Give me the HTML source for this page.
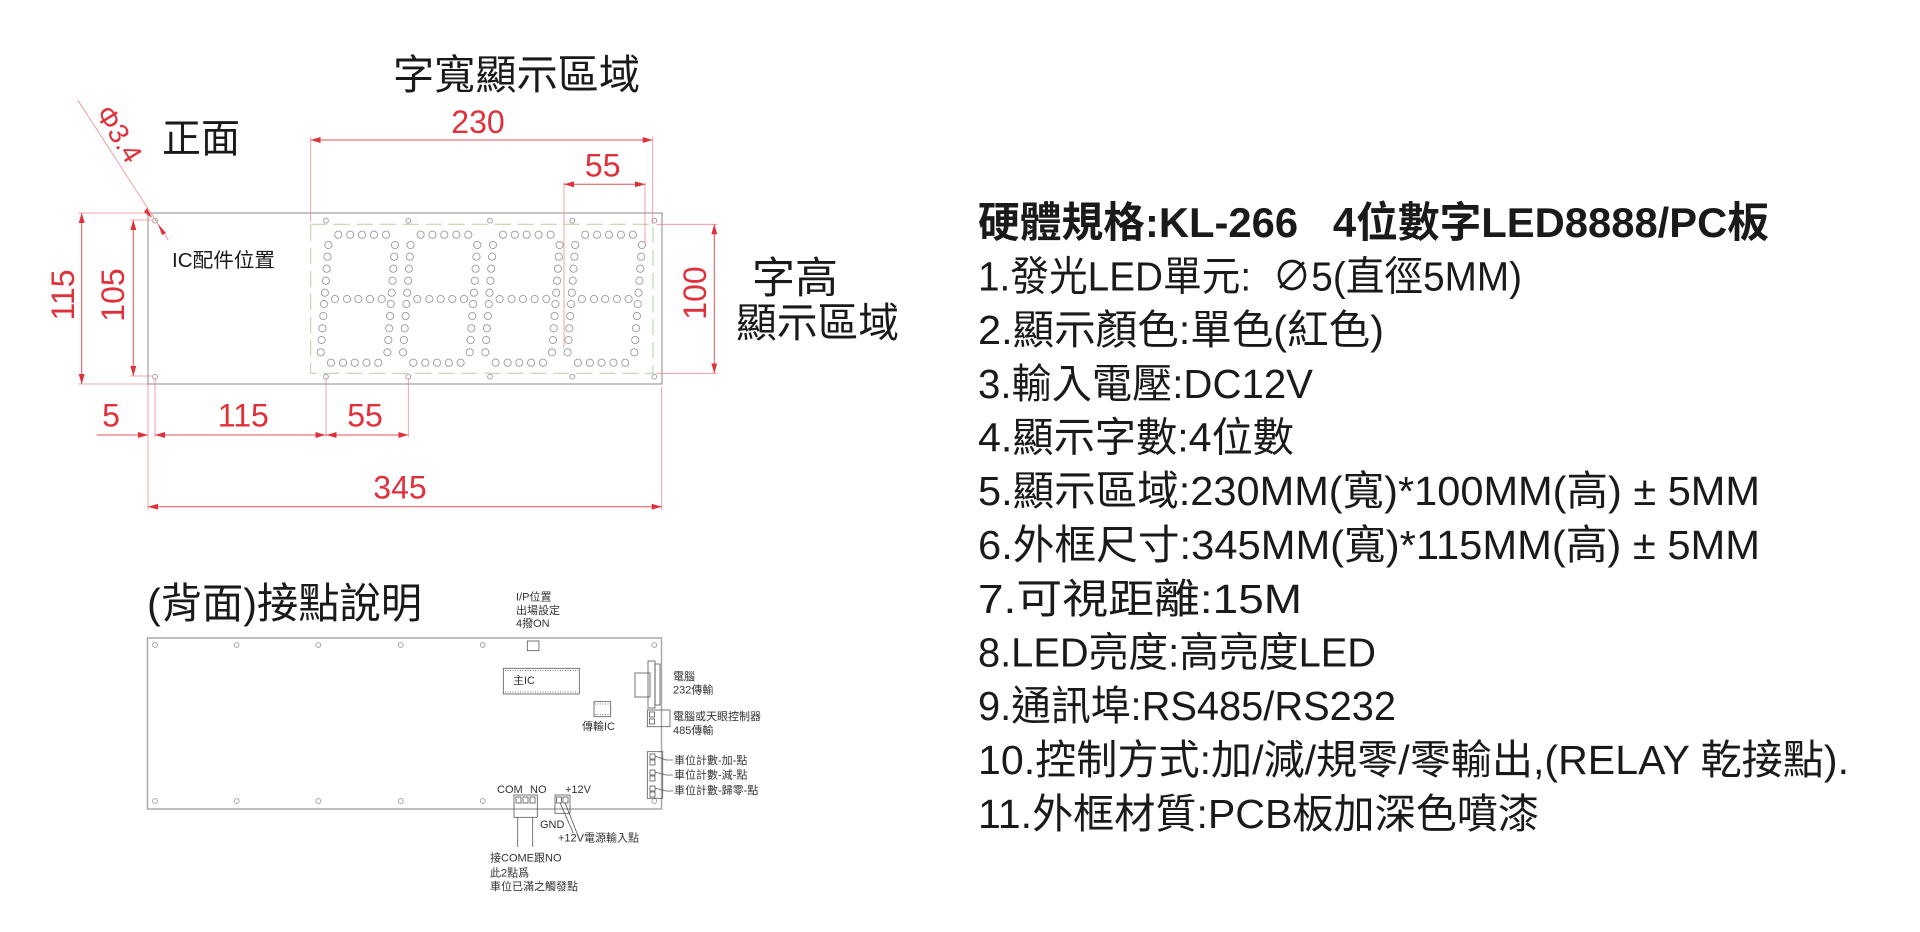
<!DOCTYPE html>
<html><head><meta charset="utf-8"><style>
html,body{margin:0;padding:0;background:#fff;}
svg{display:block;}
.r{fill:#e0303a;font-family:"Liberation Sans",sans-serif;font-size:32px;}
.k{fill:#1a1a1a;font-family:"Liberation Sans","Noto Sans CJK TC",sans-serif;}
.s{fill:#333;font-family:"Liberation Sans","Noto Sans CJK TC",sans-serif;font-size:11px;}
.dl{stroke:#e6505a;stroke-width:1;fill:none;}
.el{stroke:#ef8a90;stroke-width:0.8;fill:none;}
.led{fill:none;stroke:#9a9a9a;stroke-width:0.9;}
.g{fill:none;stroke:#555;stroke-width:0.8;}
</style></head><body>
<svg width="1920" height="932" viewBox="0 0 1920 932" xmlns="http://www.w3.org/2000/svg">
<defs>
<marker id="a" viewBox="0 0 10 6" refX="10" refY="3" markerWidth="10" markerHeight="6" markerUnits="userSpaceOnUse" orient="auto-start-reverse">
<path d="M0,0 L10,3 L0,6 z" fill="#e0303a"/></marker>
<g id="dg">
<circle class="led" cx="338.3" cy="234.7" r="3.6"/><circle class="led" cx="350.2" cy="234.7" r="3.6"/><circle class="led" cx="362" cy="234.7" r="3.6"/><circle class="led" cx="374" cy="234.7" r="3.6"/><circle class="led" cx="386" cy="234.7" r="3.6"/>
<circle class="led" cx="335" cy="299" r="3.6"/><circle class="led" cx="347" cy="299" r="3.6"/><circle class="led" cx="358.3" cy="299" r="3.6"/><circle class="led" cx="370" cy="299" r="3.6"/><circle class="led" cx="381.7" cy="299" r="3.6"/>
<circle class="led" cx="331" cy="362.7" r="3.6"/><circle class="led" cx="343" cy="362.7" r="3.6"/><circle class="led" cx="354.7" cy="362.7" r="3.6"/><circle class="led" cx="366.5" cy="362.7" r="3.6"/><circle class="led" cx="378.3" cy="362.7" r="3.6"/>
<circle class="led" cx="328.3" cy="245" r="3.6"/><circle class="led" cx="327.5" cy="256.7" r="3.6"/><circle class="led" cx="326.6" cy="268.7" r="3.6"/><circle class="led" cx="325.8" cy="280.7" r="3.6"/><circle class="led" cx="324.9" cy="292.7" r="3.6"/><circle class="led" cx="324.1" cy="304" r="3.6"/><circle class="led" cx="323.3" cy="316" r="3.6"/><circle class="led" cx="322.4" cy="328.3" r="3.6"/><circle class="led" cx="321.6" cy="340" r="3.6"/><circle class="led" cx="320.7" cy="352.3" r="3.6"/>
<circle class="led" cx="395" cy="245" r="3.6"/><circle class="led" cx="394.2" cy="256.7" r="3.6"/><circle class="led" cx="393.3" cy="268.7" r="3.6"/><circle class="led" cx="392.5" cy="280.7" r="3.6"/><circle class="led" cx="391.6" cy="292.7" r="3.6"/><circle class="led" cx="390.8" cy="304" r="3.6"/><circle class="led" cx="390" cy="316" r="3.6"/><circle class="led" cx="389.1" cy="328.3" r="3.6"/><circle class="led" cx="388.3" cy="340" r="3.6"/><circle class="led" cx="387.4" cy="352.3" r="3.6"/>
</g>
</defs>

<text class="k" x="393" y="89" font-size="41" textLength="247" lengthAdjust="spacingAndGlyphs">字寬顯示區域</text>
<text class="k" x="162" y="152" font-size="40" textLength="78" lengthAdjust="spacingAndGlyphs">正面</text>
<text class="k" x="752" y="293" font-size="43" textLength="86" lengthAdjust="spacingAndGlyphs">字高</text>
<text class="k" x="736" y="337" font-size="41" textLength="163" lengthAdjust="spacingAndGlyphs">顯示區域</text>
<text class="k" x="172" y="267" font-size="20" textLength="103" lengthAdjust="spacingAndGlyphs">IC配件位置</text>

<rect x="148" y="213" width="514" height="171" fill="none" stroke="#8a8a8a" stroke-width="1"/>
<rect x="310.7" y="224.3" width="342.3" height="149" fill="none" stroke="#b5cf9f" stroke-width="1" stroke-dasharray="16 7"/>
<g class="led">
<circle cx="155" cy="220.7" r="2.4"/><circle cx="326" cy="220.7" r="2.4"/><circle cx="408.3" cy="220.7" r="2.4"/><circle cx="490" cy="220.7" r="2.4"/><circle cx="572.3" cy="220.7" r="2.4"/><circle cx="654.3" cy="220.7" r="2.4"/>
<circle cx="155" cy="376.7" r="2.4"/><circle cx="326" cy="376.7" r="2.4"/><circle cx="408.3" cy="376.7" r="2.4"/><circle cx="490" cy="376.7" r="2.4"/><circle cx="572.3" cy="376.7" r="2.4"/><circle cx="654.3" cy="376.7" r="2.4"/>
</g>
<use href="#dg"/><use href="#dg" x="82.3"/><use href="#dg" x="164.6"/><use href="#dg" x="246.9"/>

<g class="el">
<line x1="310.7" y1="137" x2="310.7" y2="222"/>
<line x1="652.7" y1="137" x2="652.7" y2="224"/>
<line x1="564" y1="182" x2="564" y2="348"/>
<line x1="645" y1="182" x2="645" y2="245"/>
<line x1="656.7" y1="224.3" x2="717" y2="224.3"/>
<line x1="656.7" y1="373.3" x2="717" y2="373.3"/>
<line x1="78" y1="213" x2="148" y2="213"/>
<line x1="78" y1="384" x2="148" y2="384"/>
<line x1="130" y1="220" x2="152" y2="220"/>
<line x1="130" y1="376" x2="152" y2="376"/>
<line x1="148" y1="384" x2="148" y2="510"/>
<line x1="155" y1="378" x2="155" y2="437"/>
<line x1="326" y1="378" x2="326" y2="437"/>
<line x1="408.3" y1="378" x2="408.3" y2="437"/>
<line x1="661.7" y1="387" x2="661.7" y2="510"/>
<line x1="77.7" y1="100" x2="168.3" y2="240"/>
</g>
<g class="dl">
<line x1="310.7" y1="140" x2="652.7" y2="140" marker-start="url(#a)" marker-end="url(#a)"/>
<line x1="564" y1="184.3" x2="645" y2="184.3" marker-start="url(#a)" marker-end="url(#a)"/>
<line x1="714.3" y1="224.3" x2="714.3" y2="373.3" marker-start="url(#a)" marker-end="url(#a)"/>
<line x1="81.7" y1="213" x2="81.7" y2="384" marker-start="url(#a)" marker-end="url(#a)"/>
<line x1="133.3" y1="220" x2="133.3" y2="376" marker-start="url(#a)" marker-end="url(#a)"/>
<line x1="96.7" y1="435" x2="148" y2="435" marker-end="url(#a)"/>
<line x1="155" y1="435" x2="325.5" y2="435" marker-start="url(#a)" marker-end="url(#a)"/>
<line x1="326.5" y1="435" x2="408.3" y2="435" marker-start="url(#a)" marker-end="url(#a)"/>
<line x1="148" y1="506.7" x2="661.7" y2="506.7" marker-start="url(#a)" marker-end="url(#a)"/>
</g>
<path d="M152,218 L144,212 L147,208 z" fill="#e0303a"/>
<path d="M158,224 L166,233 L162,235 z" fill="#e0303a"/>

<g class="r">
<text x="478" y="133" text-anchor="middle">230</text>
<text x="602.7" y="176.7" text-anchor="middle">55</text>
<text x="111" y="426.7" text-anchor="middle">5</text>
<text x="243.3" y="426.7" text-anchor="middle">115</text>
<text x="365" y="426.7" text-anchor="middle">55</text>
<text x="400" y="498.3" text-anchor="middle">345</text>
<text transform="translate(695,293) rotate(-90)" text-anchor="middle" dominant-baseline="central">100</text>
<text transform="translate(63,295) rotate(-90)" text-anchor="middle" dominant-baseline="central">115</text>
<text transform="translate(113,295) rotate(-90)" text-anchor="middle" dominant-baseline="central">105</text>
<text transform="translate(119,134) rotate(58)" text-anchor="middle" dominant-baseline="central" font-size="28">Φ3.4</text>
</g>

<text class="k" x="147" y="618" font-size="42" textLength="275" lengthAdjust="spacingAndGlyphs">(背面)接點說明</text>
<rect x="147.5" y="638" width="514" height="171" fill="none" stroke="#aaa" stroke-width="1.5"/>
<g class="led">
<circle cx="155" cy="645" r="2.4"/><circle cx="236.7" cy="645" r="2.4"/><circle cx="318.3" cy="645" r="2.4"/><circle cx="400.7" cy="645" r="2.4"/><circle cx="482.7" cy="645" r="2.4"/><circle cx="654.3" cy="645" r="2.4"/>
<circle cx="155" cy="801" r="2.4"/><circle cx="236.7" cy="801" r="2.4"/><circle cx="318.3" cy="801" r="2.4"/><circle cx="400.7" cy="801" r="2.4"/><circle cx="482.7" cy="801" r="2.4"/><circle cx="654.3" cy="801" r="2.4"/>
</g>
<g class="s">
<text x="516" y="600.5">I/P位置</text>
<text x="516" y="614">出場設定</text>
<text x="516" y="627">4撥ON</text>
<text x="513" y="684">主IC</text>
<text x="582" y="730">傳輸IC</text>
<text x="673" y="680">電腦</text>
<text x="673" y="693.5">232傳輸</text>
<text x="673" y="720">電腦或天眼控制器</text>
<text x="673" y="734">485傳輸</text>
<text x="674" y="764">車位計數-加-點</text>
<text x="674" y="778.5">車位計數-減-點</text>
<text x="674" y="794">車位計數-歸零-點</text>
<text x="497" y="793">COM</text>
<text x="530" y="793">NO</text>
<text x="565" y="793">+12V</text>
<text x="540" y="828">GND</text>
<text x="558" y="841.5">+12V電源輸入點</text>
<text x="490" y="861.5">接COME跟NO</text>
<text x="490" y="876.5">此2點爲</text>
<text x="490" y="890">車位已滿之觸發點</text>
</g>
<g class="g">
<rect x="527.3" y="641" width="11.7" height="9.7"/>
<rect x="503.3" y="668.3" width="76" height="25.7"/>
<line x1="505" y1="670.5" x2="578" y2="670.5" stroke-dasharray="1 1.5"/>
<line x1="505" y1="692" x2="578" y2="692" stroke-dasharray="1 1.5"/>
<rect x="594" y="701.7" width="16.7" height="15"/>
<line x1="595" y1="704" x2="610" y2="704" stroke-dasharray="1 1.5"/>
<line x1="595" y1="714.5" x2="610" y2="714.5" stroke-dasharray="1 1.5"/>
<rect x="635" y="673" width="15" height="24"/>
<rect x="648" y="661" width="7" height="47"/>
<rect x="655" y="664" width="5" height="41"/>
<rect x="647.3" y="710" width="22.7" height="16.7"/>
<rect x="649.5" y="712" width="5" height="5"/><rect x="649.5" y="719" width="5" height="5"/>
<rect x="647.3" y="751.7" width="15.4" height="46.6"/>
<rect x="650" y="754" width="5" height="5"/><rect x="650" y="760" width="5" height="5"/>
<rect x="650" y="770" width="5" height="5"/><rect x="650" y="776" width="5" height="5"/>
<rect x="650" y="786" width="5" height="5"/><rect x="650" y="792" width="5" height="5"/>
<polyline points="655,756 666,760 673,760"/>
<polyline points="655,772 666,775 673,775"/>
<polyline points="655,788 666,791 673,791"/>
<rect x="514" y="795" width="23.3" height="22.3"/>
<rect x="516" y="797" width="5" height="6"/><rect x="523" y="797" width="5" height="6"/><rect x="530" y="797" width="5" height="6"/>
<rect x="555" y="795" width="15" height="18.3"/>
<rect x="556.5" y="797" width="5" height="6"/><rect x="563" y="797" width="5" height="6"/>
<line x1="517.7" y1="817.3" x2="517.7" y2="847"/>
<line x1="532.7" y1="817.3" x2="532.7" y2="847"/>
<line x1="560" y1="802.7" x2="573.3" y2="833.3"/>
<line x1="565" y1="802.7" x2="577.7" y2="835"/>
</g>

<text class="k" x="978" y="237" font-size="42" font-weight="bold" textLength="791" lengthAdjust="spacingAndGlyphs">硬體規格:KL-266&#160;&#160;&#160;4位數字LED8888/PC板</text>
<g class="k" font-size="41">
<text x="978" y="290.5" textLength="544" lengthAdjust="spacingAndGlyphs">1.發光LED單元:&#160;&#160;∅5(直徑5MM)</text>
<text x="978" y="344" textLength="406" lengthAdjust="spacingAndGlyphs">2.顯示顏色:單色(紅色)</text>
<text x="978" y="398" textLength="335" lengthAdjust="spacingAndGlyphs">3.輸入電壓:DC12V</text>
<text x="978" y="451.5" textLength="316" lengthAdjust="spacingAndGlyphs">4.顯示字數:4位數</text>
<text x="978" y="505" textLength="782" lengthAdjust="spacingAndGlyphs">5.顯示區域:230MM(寬)*100MM(高) ± 5MM</text>
<text x="978" y="559" textLength="782" lengthAdjust="spacingAndGlyphs">6.外框尺寸:345MM(寬)*115MM(高) ± 5MM</text>
<text x="978" y="613" textLength="324" lengthAdjust="spacingAndGlyphs">7.可視距離:15M</text>
<text x="978" y="666.5" textLength="398" lengthAdjust="spacingAndGlyphs">8.LED亮度:高亮度LED</text>
<text x="978" y="720" textLength="418" lengthAdjust="spacingAndGlyphs">9.通訊埠:RS485/RS232</text>
<text x="978" y="774" textLength="871" lengthAdjust="spacingAndGlyphs">10.控制方式:加/減/規零/零輸出,(RELAY 乾接點).</text>
<text x="978" y="828" textLength="561" lengthAdjust="spacingAndGlyphs">11.外框材質:PCB板加深色噴漆</text>
</g>
</svg>
</body></html>
